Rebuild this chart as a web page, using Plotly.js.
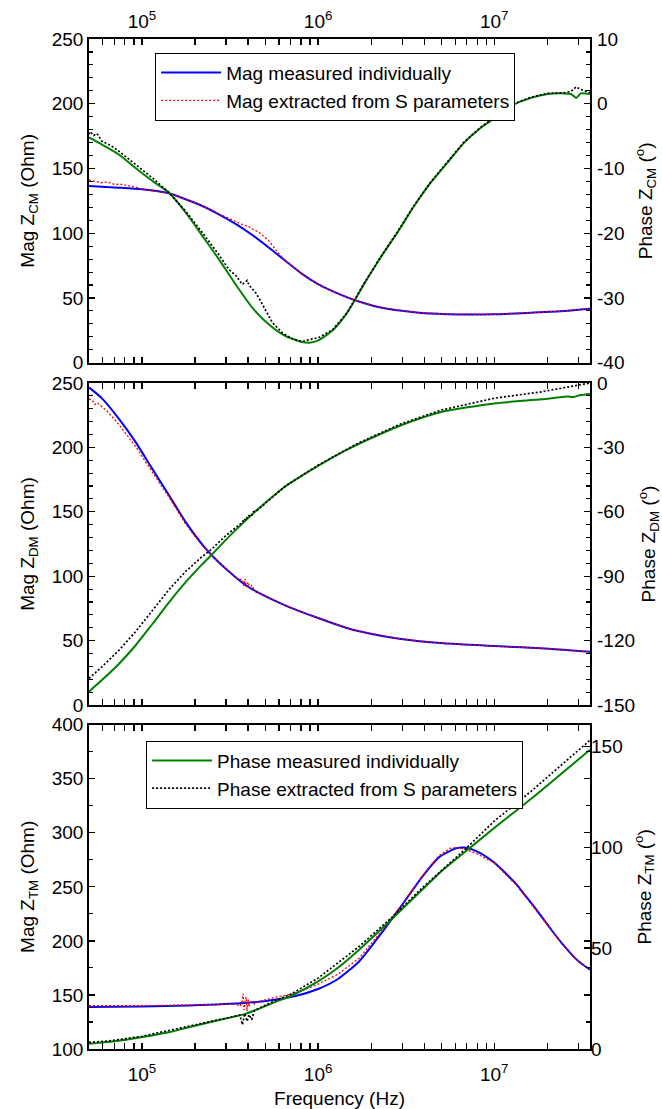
<!DOCTYPE html>
<html>
<head>
<meta charset="utf-8">
<script src="https://cdn.plot.ly/plotly-3.0.1.min.js"></script>
<style>
html,body{margin:0;padding:0;background:#fff;}
#chart{width:662px;height:1109px;}
</style>
</head>
<body>
<div id="chart"></div>
<script>
// ---------- Common-mode impedance (top panel) ----------
const fCM_magMeas = [5e4,7.36e4,1e5,1.42e5,1.77e5,2.2e5,2.73e5,3.4e5,4.23e5,5.26e5,6.54e5,8.14e5,1e6,1.17e6,1.44e6,1.67e6,2.26e6,3.51e6,5.42e6,1e7,1.62e7,2.5e7,3.5e7];
const magCM_meas  = [136.5,135.2,133.9,130.8,126.2,121,114.6,107.2,98.6,88.8,78.5,68.4,60.6,56.0,50.8,47.6,42.6,39.0,37.5,37.4,38.6,39.9,41.7];

const fCM_magExt = [5e4,5.3e4,5.6e4,5.9e4,6.2e4,6.6e4,7e4,7.5e4,8e4,8.6e4,9.3e4,1e5,1.2e5,1.42e5,1.77e5,2.2e5,2.73e5,3.1e5,3.4e5,3.75e5,4e5,4.23e5,4.61e5,5.26e5,5.8e5,6.54e5,8.14e5,1e6,1.17e6,1.44e6,1.67e6,2.26e6,3.51e6,5.42e6,1e7,1.62e7,2.5e7,3.5e7];
const magCM_ext  = [141.1,140.2,139.8,139.0,139.5,138.9,137.7,137.9,137.2,136.3,135.5,134.0,132.6,130.9,126.3,121.2,115,111.5,108.6,106.5,105.5,103.3,100.8,94,86.5,78.5,68.4,60.6,56.0,50.8,47.6,42.6,39.0,37.5,37.4,38.6,39.9,41.7];

const fCM_phMeas = [5e4,5.92e4,7.36e4,9.16e4,1.14e5,1.42e5,1.77e5,2.2e5,2.73e5,3.4e5,4.23e5,5.26e5,6.54e5,8.14e5,8.9e5,1.01e6,1.21e6,1.46e6,1.82e6,2.26e6,2.82e6,3.51e6,4.36e6,5.42e6,6.75e6,8.4e6,1.045e7,1.3e7,1.62e7,2.01e7,2.5e7,2.73e7,2.92e7,3.11e7,3.5e7];
const phCM_meas  = [-5.2,-6.3,-7.8,-9.9,-11.9,-13.7,-16.8,-20.4,-24.0,-27.9,-31.5,-34.1,-35.9,-36.8,-36.9,-36.5,-35.0,-32.3,-27.9,-23.8,-19.9,-15.8,-12.2,-9.1,-6.0,-3.7,-1.9,-0.1,0.9,1.5,1.6,1.5,0.9,1.6,1.5];

const fCM_phExt = [5e4,5.08e4,5.31e4,5.55e4,5.92e4,6.61e4,7.36e4,9.16e4,1.14e5,1.42e5,1.77e5,2.2e5,2.73e5,3.11e5,3.4e5,3.71e5,3.96e5,4.05e5,4.42e5,4.61e5,5.04e5,5.5e5,6.27e5,7.14e5,8.14e5,1.01e6,1.21e6,1.46e6,1.82e6,2.26e6,2.82e6,3.51e6,4.36e6,5.42e6,6.75e6,8.4e6,1.045e7,1.3e7,1.62e7,2.01e7,2.5e7,2.73e7,2.92e7,3.11e7,3.5e7];
const phCM_ext  = [-4.7,-4.3,-4.9,-4.6,-5.8,-6.4,-7.3,-9.4,-11.4,-13.7,-16.6,-19.9,-23.3,-25.6,-26.5,-27.9,-27.3,-28.0,-29.2,-30.0,-32.0,-33.8,-35.4,-36.3,-36.7,-36.1,-34.9,-32.3,-27.8,-23.7,-19.8,-15.7,-12.1,-9.0,-5.9,-3.6,-1.8,0.0,1.0,1.6,1.7,1.9,2.6,2.2,1.7];

// ---------- Differential-mode impedance (middle panel) ----------
const fDM_magMeas = [5e4,5.92e4,7.36e4,9.16e4,1.14e5,1.42e5,1.77e5,2.2e5,2.48e5,2.98e5,3.87e5,4.61e5,6.54e5,1e6,1.44e6,1.71e6,2.96e6,5.15e6,1e7,2.05e7,3.5e7];
const magDM_meas  = [246.6,238.1,222.6,204.5,183.7,163,142,124.5,116.5,106,93.2,87,77.2,67.5,60,57.3,51.2,47.9,45.8,43.7,41.3];

const fDM_magExt = [5e4,5.2e4,5.4e4,5.6e4,5.92e4,6.3e4,7.36e4,9.16e4,1.14e5,1.42e5,1.77e5,2.2e5,2.48e5,2.98e5,3.5e5,3.7e5,3.78e5,3.85e5,3.92e5,4e5,4.1e5,4.2e5,4.35e5,4.61e5,6.54e5,1e6,1.44e6,1.71e6,2.96e6,5.15e6,1e7,2.05e7,3.5e7];
const magDM_ext  = [237.6,236.8,233.2,234.6,231.6,228.5,218.1,201,181.2,161.5,140.5,123.5,116.5,106,97.8,97.5,92.5,98,91.5,95.5,90.2,93.2,88.8,87,77.2,67.5,60,57.3,51.2,47.9,45.8,43.7,41.3];

const fDM_phMeas = [5e4,5.92e4,7.36e4,9.16e4,1.14e5,1.42e5,1.77e5,2.2e5,2.48e5,2.98e5,3.87e5,4.61e5,6.54e5,1e6,1.44e6,1.71e6,2.96e6,5e6,1e7,1.86e7,2.6e7,2.83e7,3.1e7,3.5e7];
const phDM_meas  = [-143.8,-138.4,-131.0,-122.4,-112.5,-102.3,-92.8,-84.4,-80.1,-73.2,-64.1,-58.4,-48.1,-38.6,-31.3,-28.3,-19.7,-13.5,-9.5,-7.6,-6.3,-6.5,-5.6,-5.1];

const fDM_phExt = [5e4,5.92e4,7.36e4,9.16e4,1.14e5,1.42e5,1.77e5,2.2e5,2.48e5,2.98e5,3.6e5,3.71e5,3.8e5,3.9e5,4.0e5,4.15e5,4.3e5,4.5e5,4.82e5,6.54e5,1e6,1.71e6,2.96e6,5e6,1e7,1.86e7,3.5e7];
const phDM_ext  = [-137.6,-132.2,-124.7,-116.0,-106.2,-96.3,-87.8,-80.8,-77.5,-71.2,-65.8,-65.1,-63.2,-64.0,-61.6,-62.3,-59.9,-59.4,-57.3,-47.9,-38.3,-27.8,-19.0,-12.6,-7.1,-4.1,0];

// ---------- TM impedance (bottom panel) ----------
const fTM_magMeas = [5e4,1e5,1.87e5,3.83e5,5.64e5,7.44e5,1e6,1.29e6,1.71e6,2.25e6,2.96e6,3.91e6,4.87e6,6.08e6,6.79e6,8.02e6,1e7,1.32e7,1.49e7,1.74e7,2.11e7,2.42e7,2.88e7,3.1e7,3.5e7];
const magTM_meas  = [138.8,139.4,140.3,142.5,145.6,149,155.5,164.5,181,205.5,232,259.5,277.5,285.7,286.3,282.6,272.5,253.4,242.6,228.7,210.3,197.9,184.1,179.5,173.3];

const fTM_magExt = [5e4,1e5,1.87e5,3.43e5,3.6e5,3.7e5,3.75e5,3.8e5,3.85e5,3.9e5,3.95e5,4.0e5,4.05e5,4.1e5,4.2e5,4.35e5,4.52e5,5.64e5,7.44e5,1e6,1.29e6,1.71e6,2.25e6,2.96e6,3.91e6,4.87e6,5.6e6,6.08e6,6.79e6,8.02e6,1e7,1.32e7,1.49e7,1.74e7,2.11e7,2.42e7,2.88e7,3.1e7,3.5e7];
const magTM_ext  = [140,140,140.7,141.6,139.5,144.2,151,136,143.5,148,135,146,139,142,144,141.5,143.5,147.7,151.5,160,169,184,207.5,232.7,260.1,279,285.5,286.3,285,280.5,272,252.5,241.8,227.8,209.5,197.4,183.8,179.3,173.3];

const fTM_phMeas = [5e4,6.53e4,8.15e4,1e5,1.42e5,1.87e5,2.46e5,3.07e5,3.83e5,4.78e5,5.64e5,7.05e5,1e6,1.29e6,1.71e6,2.66e6,3.91e6,5e6,6.79e6,1e7,1.65e7,3.5e7];
const phTM_meas  = [2.6,3.6,4.6,5.9,8.3,10.9,13.4,15.3,17.3,20.5,23.1,26.4,33.5,40.1,49.2,64.9,79.0,88.0,97.5,109.5,124.5,148.3];

const fTM_phExt = [5e4,6.53e4,1e5,1.87e5,3.07e5,3.6e5,3.72e5,3.83e5,3.95e5,4.05e5,4.2e5,4.35e5,4.78e5,5.64e5,7.05e5,1e6,1.71e6,2.66e6,3.91e6,6.79e6,1e7,1.62e7,3.5e7];
const phTM_ext  = [3.3,4.0,6.3,11.4,15.5,16.8,12.0,17.6,13.7,17.0,14.5,19.0,20.8,23.8,27.3,35.1,50.8,65.7,79.9,98.7,112.9,127.7,153.0];

// ---------- Axis ticks / labels ----------
const xTickVals = [1e5, 1e6, 1e7];
const xTickText = ['10<sup>5</sup>', '10<sup>6</sup>', '10<sup>7</sup>'];
const phCMticks = [-40, -30, -20, -10, 0, 10];
const phDMticks = [-150, -120, -90, -60, -30, 0];
const phTMticks = [0, 50, 100, 150];
const legendNames = ['Mag measured individually', 'Mag extracted from S parameters',
                     'Phase measured individually', 'Phase extracted from S parameters'];

// ---------- Styling ----------
const FAM = 'Liberation Sans, Arial, Helvetica, sans-serif';
const FONT = {family: FAM, size: 19, color: '#000'};
const XR = [Math.log10(5e4), Math.log10(3.5e7)];
const xMinor = [];
[1e4, 1e5, 1e6, 1e7].forEach(d => { for (let k = 2; k <= 9; k++) { const v = k * d; if (v > 5e4 && v < 3.5e7) xMinor.push(v); } });

const BLUE = {color: '#0000ff', width: 2};
const RED = {color: '#ff0000', width: 1.3, dash: '2px,2px'};
const GREEN = {color: '#008000', width: 2};
const BLACK = {color: '#000000', width: 1.7, dash: '2px,2px'};

function tr(x, y, xa, ya, line, name, legend, show, smooth) {
  const t = {x: x, y: y, xaxis: xa, yaxis: ya, type: 'scatter', mode: 'lines',
    line: Object.assign({}, line), name: name, showlegend: show, hoverinfo: 'skip'};
  if (smooth) { t.line.shape = 'spline'; t.line.smoothing = 0.6; }
  if (legend) t.legend = legend;
  return t;
}

const data = [
  tr(fCM_magMeas, magCM_meas, 'x3', 'y5', BLUE, legendNames[0], 'legend', true, true),
  tr(fCM_magExt, magCM_ext, 'x3', 'y5', RED, legendNames[1], 'legend', true, false),
  tr(fCM_phMeas, phCM_meas, 'x3', 'y6', GREEN, legendNames[2], 'legend', false, true),
  tr(fCM_phExt, phCM_ext, 'x3', 'y6', BLACK, legendNames[3], 'legend', false, false),
  tr(fDM_magMeas, magDM_meas, 'x2', 'y3', BLUE, legendNames[0], 'legend', false, true),
  tr(fDM_magExt, magDM_ext, 'x2', 'y3', RED, legendNames[1], 'legend', false, false),
  tr(fDM_phMeas, phDM_meas, 'x2', 'y4', GREEN, legendNames[2], 'legend', false, true),
  tr(fDM_phExt, phDM_ext, 'x2', 'y4', BLACK, legendNames[3], 'legend', false, false),
  tr(fTM_magMeas, magTM_meas, 'x', 'y', BLUE, legendNames[0], 'legend2', false, true),
  tr(fTM_magExt, magTM_ext, 'x', 'y', RED, legendNames[1], 'legend2', false, false),
  tr(fTM_phMeas, phTM_meas, 'x', 'y2', GREEN, legendNames[2], 'legend2', true, true),
  tr(fTM_phExt, phTM_ext, 'x', 'y2', BLACK, legendNames[3], 'legend2', true, false)
];

function xax(extra) {
  return Object.assign({
    type: 'log', range: XR, tickmode: 'array', tickvals: xTickVals, ticktext: xTickText,
    ticks: 'inside', ticklen: 6, tickwidth: 1.3, tickcolor: '#000',
    showline: true, linecolor: '#000', linewidth: 1.8, mirror: 'allticks',
    showgrid: false, zeroline: false, tickfont: FONT,
    minor: {tickmode: 'array', tickvals: xMinor, ticks: 'inside', ticklen: 3.5, tickwidth: 1.1, tickcolor: '#000', showgrid: false}
  }, extra);
}
function yleft(domain, range, dtick, minorD, title, anchor) {
  return {
    domain: domain, range: range, anchor: anchor, tickmode: 'linear', tick0: 0, dtick: dtick,
    ticks: 'inside', ticklen: 6, tickwidth: 1.3, tickcolor: '#000',
    showline: true, linecolor: '#000', linewidth: 1.8, mirror: 'allticks',
    showgrid: false, zeroline: false, tickfont: FONT,
    minor: {dtick: minorD, ticks: 'inside', ticklen: 4, tickwidth: 1.1, tickcolor: '#000', showgrid: false},
    title: {text: title, font: FONT, standoff: 12}
  };
}
// right axes: when their ticks coincide with the mirrored left-axis ticks they draw none of their own
function yright(over, anchor, range, vals, title, standoff, ownTicks) {
  return {
    overlaying: over, anchor: anchor, side: 'right', range: range,
    tickmode: 'array', tickvals: vals, ticktext: vals.map(v => String(v)),
    ticks: ownTicks ? 'inside' : '', ticklen: 6, tickwidth: 1.3, tickcolor: '#000',
    ticklabelstandoff: ownTicks ? 0 : 6,
    showline: false, showgrid: false, zeroline: false, tickfont: FONT,
    title: {text: title, font: FONT, standoff: standoff}
  };
}

const D1 = [0.6795, 1], D2 = [0.3406, 0.6594], D3 = [0, 0.3211];

const layout = {
  width: 662, height: 1109,
  margin: {l: 89, r: 72, t: 39, b: 60},
  paper_bgcolor: '#fff', plot_bgcolor: '#fff',
  font: FONT,
  xaxis: xax({anchor: 'y', ticklabelstandoff: 7, title: {text: 'Frequency (Hz)', font: FONT, standoff: 10}}),
  xaxis2: xax({anchor: 'y3', showticklabels: false}),
  xaxis3: xax({anchor: 'y5', side: 'top', ticklabelstandoff: 2}),
  yaxis: yleft(D3, [100, 400], 50, 25, 'Mag Z<sub>TM</sub> (Ohm)', 'x'),
  yaxis2: yright('y', 'x', [0, 160.7], phTMticks, 'Phase Z<sub>TM</sub> (<sup>o</sup>)', 15, true),
  yaxis3: yleft(D2, [0, 250], 50, 10, 'Mag Z<sub>DM</sub> (Ohm)', 'x2'),
  yaxis4: yright('y3', 'x2', [-150, 0], phDMticks, 'Phase Z<sub>DM</sub> (<sup>o</sup>)', 9, false),
  yaxis5: yleft(D1, [0, 250], 50, 10, 'Mag Z<sub>CM</sub> (Ohm)', 'x3'),
  yaxis6: yright('y5', 'x3', [-40, 10], phCMticks, 'Phase Z<sub>CM</sub> (<sup>o</sup>)', 15, false),
  legend: {x: 0.132, y: 0.9864, xanchor: 'left', yanchor: 'top', bgcolor: '#fff',
    bordercolor: '#000', borderwidth: 1, font: FONT, itemwidth: 60, tracegroupgap: 0},
  legend2: {x: 0.114, y: 0.3054, xanchor: 'left', yanchor: 'top', bgcolor: '#fff',
    bordercolor: '#000', borderwidth: 1, font: FONT, itemwidth: 60, tracegroupgap: 0},
  showlegend: true
};

Plotly.newPlot('chart', data, layout, {displayModeBar: false, staticPlot: true});
</script>
</body>
</html>
